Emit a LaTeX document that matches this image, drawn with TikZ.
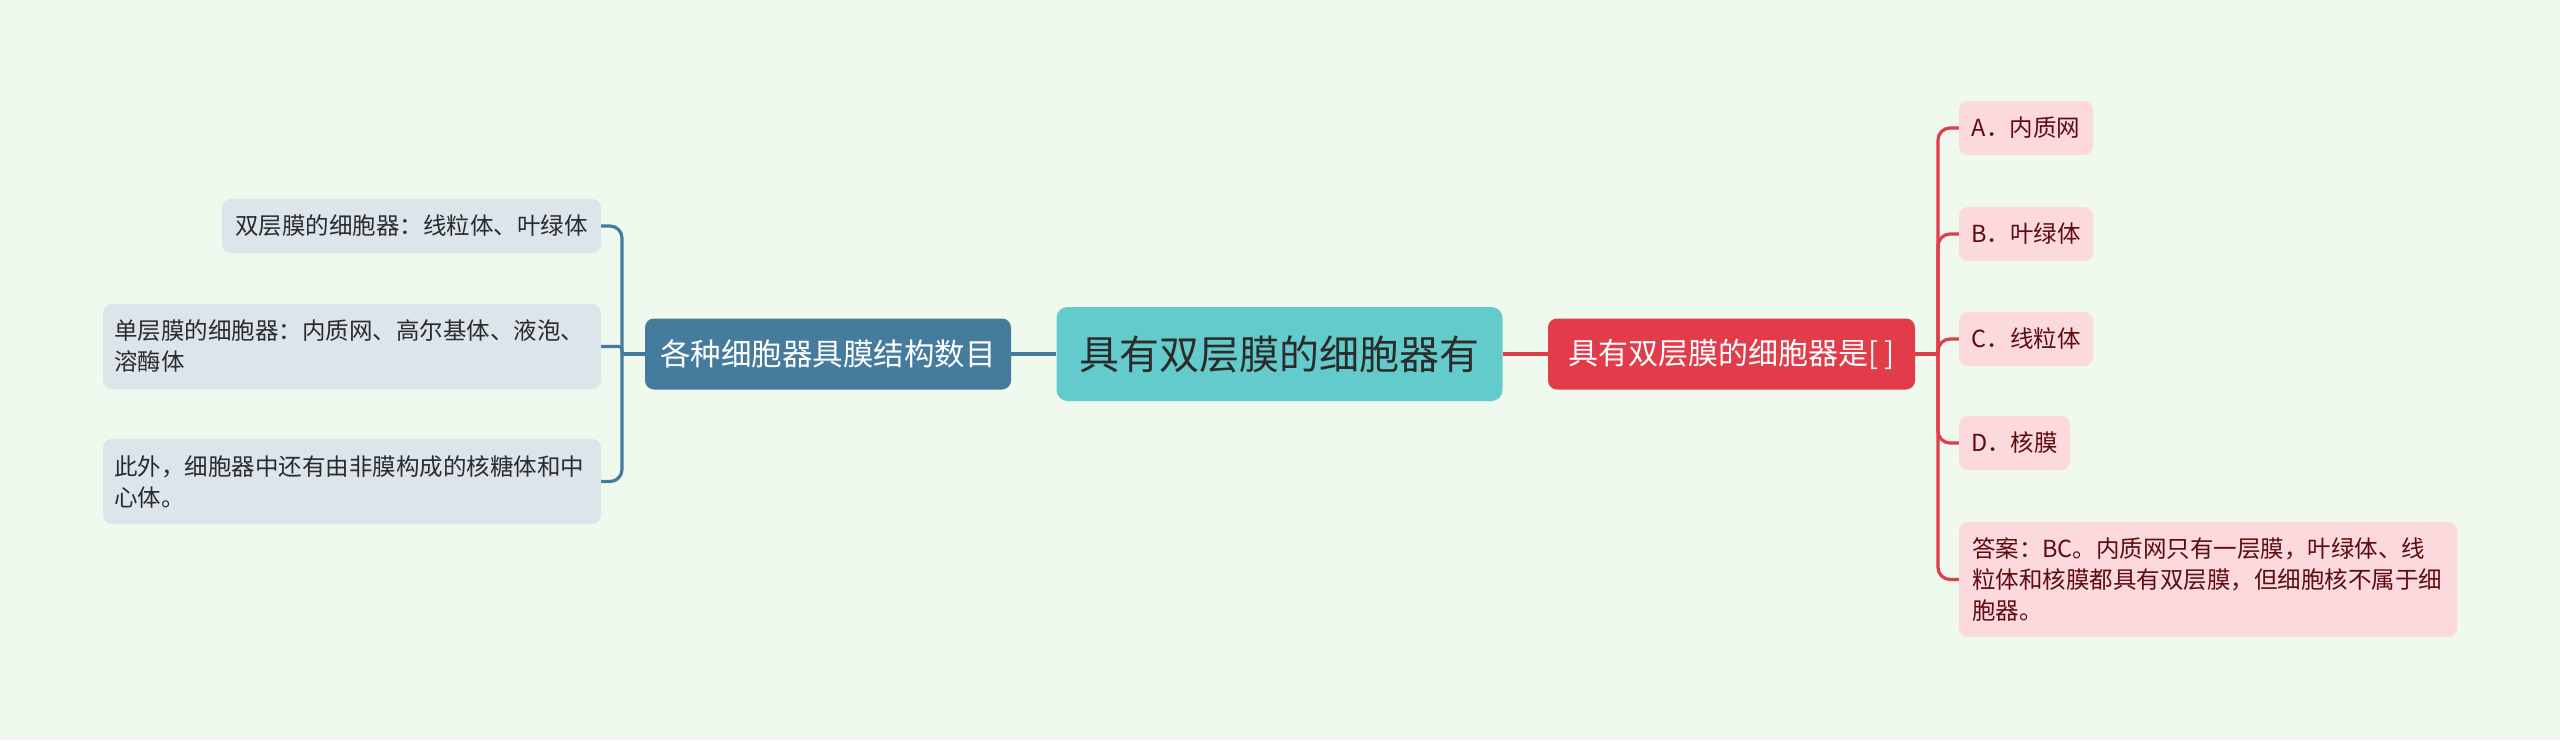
\documentclass[tikz,border=0pt]{standalone}
\usepackage{fontspec}
\setmainfont{Noto Sans CJK SC}
\begin{document}
\begin{tikzpicture}[x=1pt,y=-1pt]
\definecolor{bg}{HTML}{EFF9EE}
\definecolor{teal}{HTML}{64CBCC}
\definecolor{bluenode}{HTML}{457B9D}
\definecolor{rednode}{HTML}{E23B4A}
\definecolor{blueleaf}{HTML}{DCE5EB}
\definecolor{redleaf}{HTML}{FBD9DD}
\definecolor{darktext}{HTML}{2B2B2B}
\definecolor{redtext}{HTML}{5E0B10}
\tikzset{
  box/.style={rectangle, rounded corners=9pt, inner sep=0pt, anchor=center},
  mainbox/.style={box, fill=teal, text=darktext, font=\fontsize{40}{48}\selectfont, rounded corners=11pt},
  lbranch/.style={box, fill=bluenode, text=white, font=\fontsize{30.5}{36}\selectfont},
  rbranch/.style={box, fill=rednode, text=white, font=\fontsize{30}{36}\selectfont},
  lleaf/.style={box, fill=blueleaf, text=darktext, font=\fontsize{23.5}{31}\selectfont},
  rleaf/.style={box, fill=redleaf, text=redtext, font=\fontsize{23.5}{31}\selectfont},
  lline/.style={draw=bluenode, line width=3.2pt},
  rline/.style={draw=rednode, line width=3.2pt}
}
\useasboundingbox (0,0) rectangle (2560,740);
\fill[bg] (0,0) rectangle (2560,740);

% nodes
\node[mainbox, minimum width=446pt, minimum height=94pt] (root) at (1279.5,354) {具有双层膜的细胞器有};
\node[lbranch, minimum width=366pt, minimum height=71pt] (lnode) at (828,354) {各种细胞器具膜结构数目};
\node[rbranch, minimum width=367pt, minimum height=71pt] (rnode) at (1731.5,354) {具有双层膜的细胞器是[ ]};

\node[lleaf, minimum width=379pt, minimum height=54pt] (l1) at (411.5,226) {双层膜的细胞器：线粒体、叶绿体};
\node[lleaf, minimum height=85pt, text width=476pt, inner xsep=11pt, align=left] (l2) at (352,346.5) {单层膜的细胞器：内质网、高尔基体、液泡、\\溶酶体};
\node[lleaf, minimum height=85pt, text width=476pt, inner xsep=11pt, align=left] (l3) at (352,481.5) {此外，细胞器中还有由非膜构成的核糖体和中\\心体。};

\node[rleaf, minimum width=134pt, minimum height=54pt] (ra) at (2026,128) {A．内质网};
\node[rleaf, minimum width=134pt, minimum height=54pt] (rb) at (2026,234) {B．叶绿体};
\node[rleaf, minimum width=134pt, minimum height=54pt] (rc) at (2026,339) {C．线粒体};
\node[rleaf, minimum width=111pt, minimum height=54pt] (rd) at (2014.5,443) {D．核膜};
\node[rleaf, minimum height=115pt, text width=472pt, inner xsep=13pt, align=left] (rans) at (2208,579.5) {答案：BC。内质网只有一层膜，叶绿体、线\\粒体和核膜都具有双层膜，但细胞核不属于细\\胞器。};

% connectors
\coordinate (jl) at (622,354);
\coordinate (jr) at (1938,354);
\draw[lline] (root.west) -- (lnode.east);
\draw[lline] (lnode.west) -- (jl);
\draw[lline, rounded corners=12pt] (jl) |- (l1.east);
\draw[lline, rounded corners=3pt] (jl) |- (l2.east);
\draw[lline, rounded corners=12pt] (jl) |- (l3.east);

\draw[rline] (root.east) -- (rnode.west);
\draw[rline] (rnode.east) -- (jr);
\draw[rline, rounded corners=12pt] (jr) |- (ra.west);
\draw[rline, rounded corners=12pt] (jr) |- (rb.west);
\draw[rline, rounded corners=12pt] (jr) |- (rc.west);
\draw[rline, rounded corners=12pt] (jr) |- (rd.west);
\draw[rline, rounded corners=12pt] (jr) |- (rans.west);
\end{tikzpicture}
\end{document}
